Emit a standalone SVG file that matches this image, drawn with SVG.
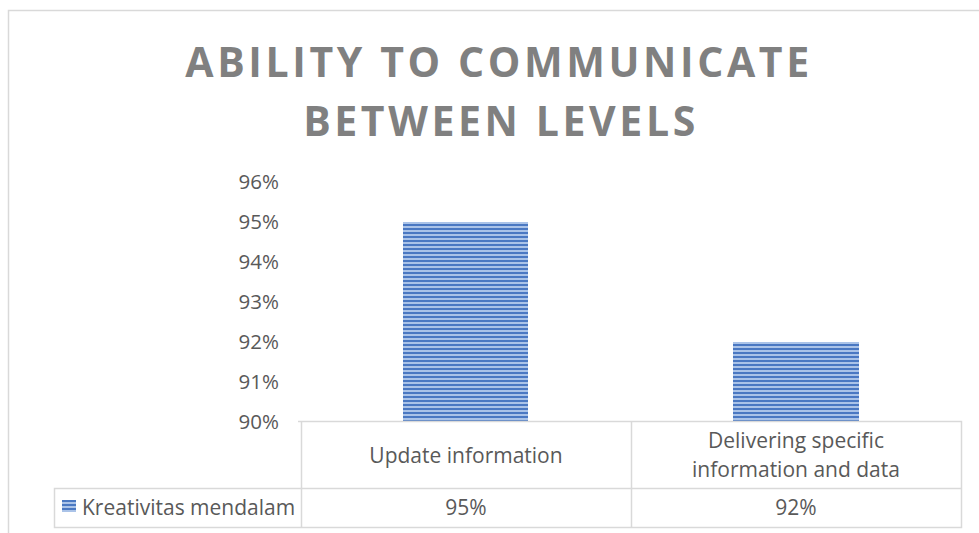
<svg xmlns="http://www.w3.org/2000/svg" width="979" height="533" viewBox="0 0 979 533">
<defs>
<pattern id="stripes" patternUnits="userSpaceOnUse" x="0" y="0" width="8" height="4">
<rect width="8" height="4" fill="#aac3e8"/>
<rect y="0" width="8" height="2" fill="#4a78c2"/>
</pattern>
</defs>
<style>
.title{font-family:"Open Sans","Noto Sans",sans-serif;font-weight:bold;font-size:41px;fill:#808080;letter-spacing:3.6px;text-anchor:middle}
.ax{font-family:"Open Sans","Noto Sans",sans-serif;font-size:20.5px;fill:#595959;text-anchor:end}
.tb{font-family:"Open Sans","Noto Sans",sans-serif;font-size:21px;fill:#595959;text-anchor:middle}
.lg{font-family:"Open Sans","Noto Sans",sans-serif;font-size:21px;fill:#595959}
.ln{stroke:#d9d9d9;stroke-width:1.5;fill:none}
</style>
<rect width="979" height="533" fill="#ffffff"/>
<rect x="8.5" y="10.5" width="985" height="540" class="ln"/>
<g id="title">
<text class="title" x="499" y="77">ABILITY TO COMMUNICATE</text>
<text class="title" x="501" y="136">BETWEEN LEVELS</text>
</g>
<g id="axis">
<text class="ax" x="279" y="189">96%</text>
<text class="ax" x="279" y="229">95%</text>
<text class="ax" x="279" y="269">94%</text>
<text class="ax" x="279" y="309">93%</text>
<text class="ax" x="279" y="349">92%</text>
<text class="ax" x="279" y="389">91%</text>
<text class="ax" x="279" y="429">90%</text>
</g>
<g id="bar1"><rect x="403" y="222" width="125" height="199" fill="url(#stripes)"/></g>
<g id="bar2"><rect x="733" y="342" width="126" height="79" fill="url(#stripes)"/></g>
<g id="table">
<path class="ln" d="M298 421.5H961.5V527.5H54.5V488.5H961.5M301.5 421.5V527.5M631.5 421.5V527.5"/>
<text class="tb" x="466" y="463">Update information</text>
<text class="tb" x="796" y="448">Delivering specific</text>
<text class="tb" x="796" y="477">information and data</text>
<text class="tb" x="466" y="515">95%</text>
<text class="tb" x="796" y="515">92%</text>
</g>
<g id="legend">
<rect x="62" y="500" width="14" height="12" fill="url(#stripes)"/>
<text class="lg" x="82" y="515">Kreativitas mendalam</text>
</g>
</svg>
